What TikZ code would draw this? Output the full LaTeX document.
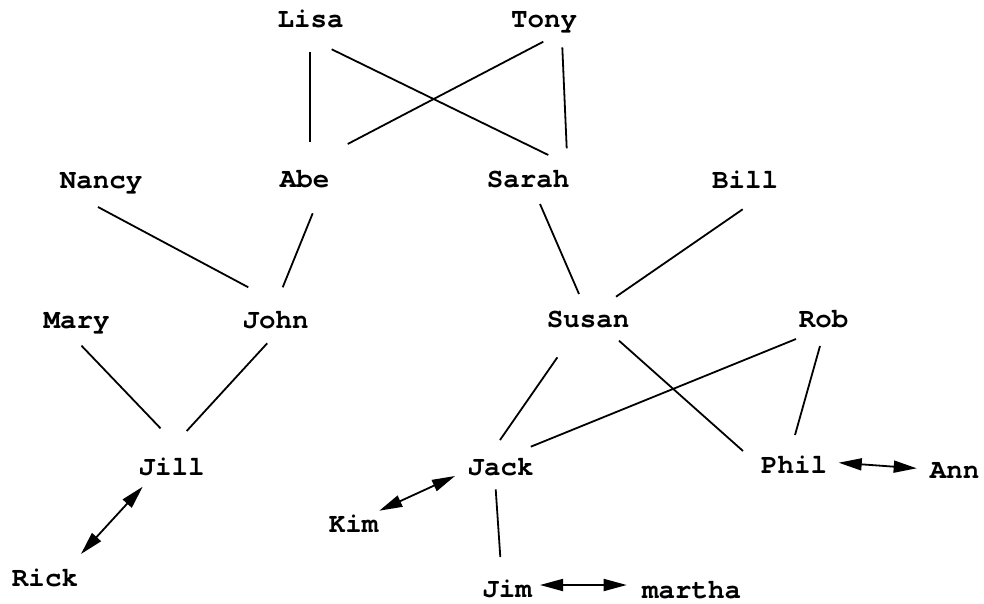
\documentclass[tikz,border=0pt]{standalone}
\usepackage{fontspec}
\setmainfont{TeX Gyre Cursor}
\usetikzlibrary{arrows.meta}
\begin{document}
\begin{tikzpicture}[x=1pt,y=-1pt,
  lbl/.style={inner sep=0pt, text height=15.5pt, text depth=0pt,
    font=\fontsize{27.5}{30}\selectfont\bfseries},
  edge/.style={line width=1.8pt},
  biarrow/.style={line width=1.8pt,
    {Triangle[length=23pt,width=12pt]}-{Triangle[length=23pt,width=12pt]}}]
\useasboundingbox (0,0) rectangle (984,604);
\node[lbl] (Lisa)   at (310.5,19.5) {Lisa};
\node[lbl] (Tony)   at (544,19.5)   {Tony};
\node[lbl] (Nancy)  at (101,180.5)  {Nancy};
\node[lbl] (Abe)    at (304.5,179.5){Abe};
\node[lbl] (Sarah)  at (528,179.5)  {Sarah};
\node[lbl] (Bill)   at (745,180.5)  {Bill};
\node[lbl] (Mary)   at (76.5,320.5) {Mary};
\node[lbl] (John)   at (275.5,320.5){John};
\node[lbl] (Susan)  at (588,319.5)  {Susan};
\node[lbl] (Rob)    at (823.5,319.5){Rob};
\node[lbl] (Jill)   at (171.5,467.5){Jill};
\node[lbl] (Jack)   at (500.5,467.5){Jack};
\node[lbl] (Phil)   at (794,466)    {Phil};
\node[lbl] (Ann)    at (954.5,470.5){Ann};
\node[lbl] (Kim)    at (353.5,524.5){Kim};
\node[lbl] (Rick)   at (45,578.5)   {Rick};
\node[lbl] (Jim)    at (507,590)    {Jim};
\node[lbl] (martha) at (691.5,590.5){martha};

\draw[edge] ([shift={(-0.5,32.2)}]Lisa.center) -- ([shift={(5.5,-37.8)}]Abe.center);
\draw[edge] ([shift={(21.2,29.8)}]Lisa.center) -- ([shift={(20.3,-24.5)}]Sarah.center);
\draw[edge] ([shift={(-0.7,22.2)}]Tony.center) -- ([shift={(43.2,-35.5)}]Abe.center);
\draw[edge] ([shift={(18.3,27.8)}]Tony.center) -- ([shift={(38.7,-31.2)}]Sarah.center);
\draw[edge] ([shift={(-3,26.5)}]Nancy.center) -- ([shift={(-27.2,-33.2)}]John.center);
\draw[edge] ([shift={(8.2,33.8)}]Abe.center) -- ([shift={(7.2,-33.2)}]John.center);
\draw[edge] ([shift={(12,24.5)}]Sarah.center) -- ([shift={(-9,-25.5)}]Susan.center);
\draw[edge] ([shift={(-2.3,28.8)}]Bill.center) -- ([shift={(28,-22.8)}]Susan.center);
\draw[edge] ([shift={(5,25.2)}]Mary.center) -- ([shift={(-11,-39.2)}]Jill.center);
\draw[edge] ([shift={(-8.3,22.8)}]John.center) -- ([shift={(15.2,-36.5)}]Jill.center);
\draw[edge] ([shift={(-30.6,37.8)}]Susan.center) -- ([shift={(-0.5,-27.5)}]Jack.center);
\draw[edge] ([shift={(31,21.2)}]Susan.center) -- ([shift={(-51,-15)}]Phil.center);
\draw[edge] ([shift={(-27.5,19.5)}]Rob.center) -- ([shift={(30.3,-20.8)}]Jack.center);
\draw[edge] ([shift={(-3.5,26.5)}]Rob.center) -- ([shift={(1,-31)}]Phil.center);
\draw[edge] ([shift={(-4.8,21.8)}]Jack.center) -- ([shift={(-6.7,-33)}]Jim.center);

\draw[biarrow] ([shift={(-28.8,19.2)}]Jill.center) -- ([shift={(36,-24.5)}]Rick.center);
\draw[biarrow] ([shift={(-45.5,8.5)}]Jack.center) -- ([shift={(25.8,-13.8)}]Kim.center);
\draw[biarrow] ([shift={(44.7,-3.3)}]Phil.center) -- ([shift={(-37.8,-2.2)}]Ann.center);
\draw[biarrow] ([shift={(33,-5)}]Jim.center) -- ([shift={(-64.8,-5.5)}]martha.center);
\end{tikzpicture}
\end{document}
